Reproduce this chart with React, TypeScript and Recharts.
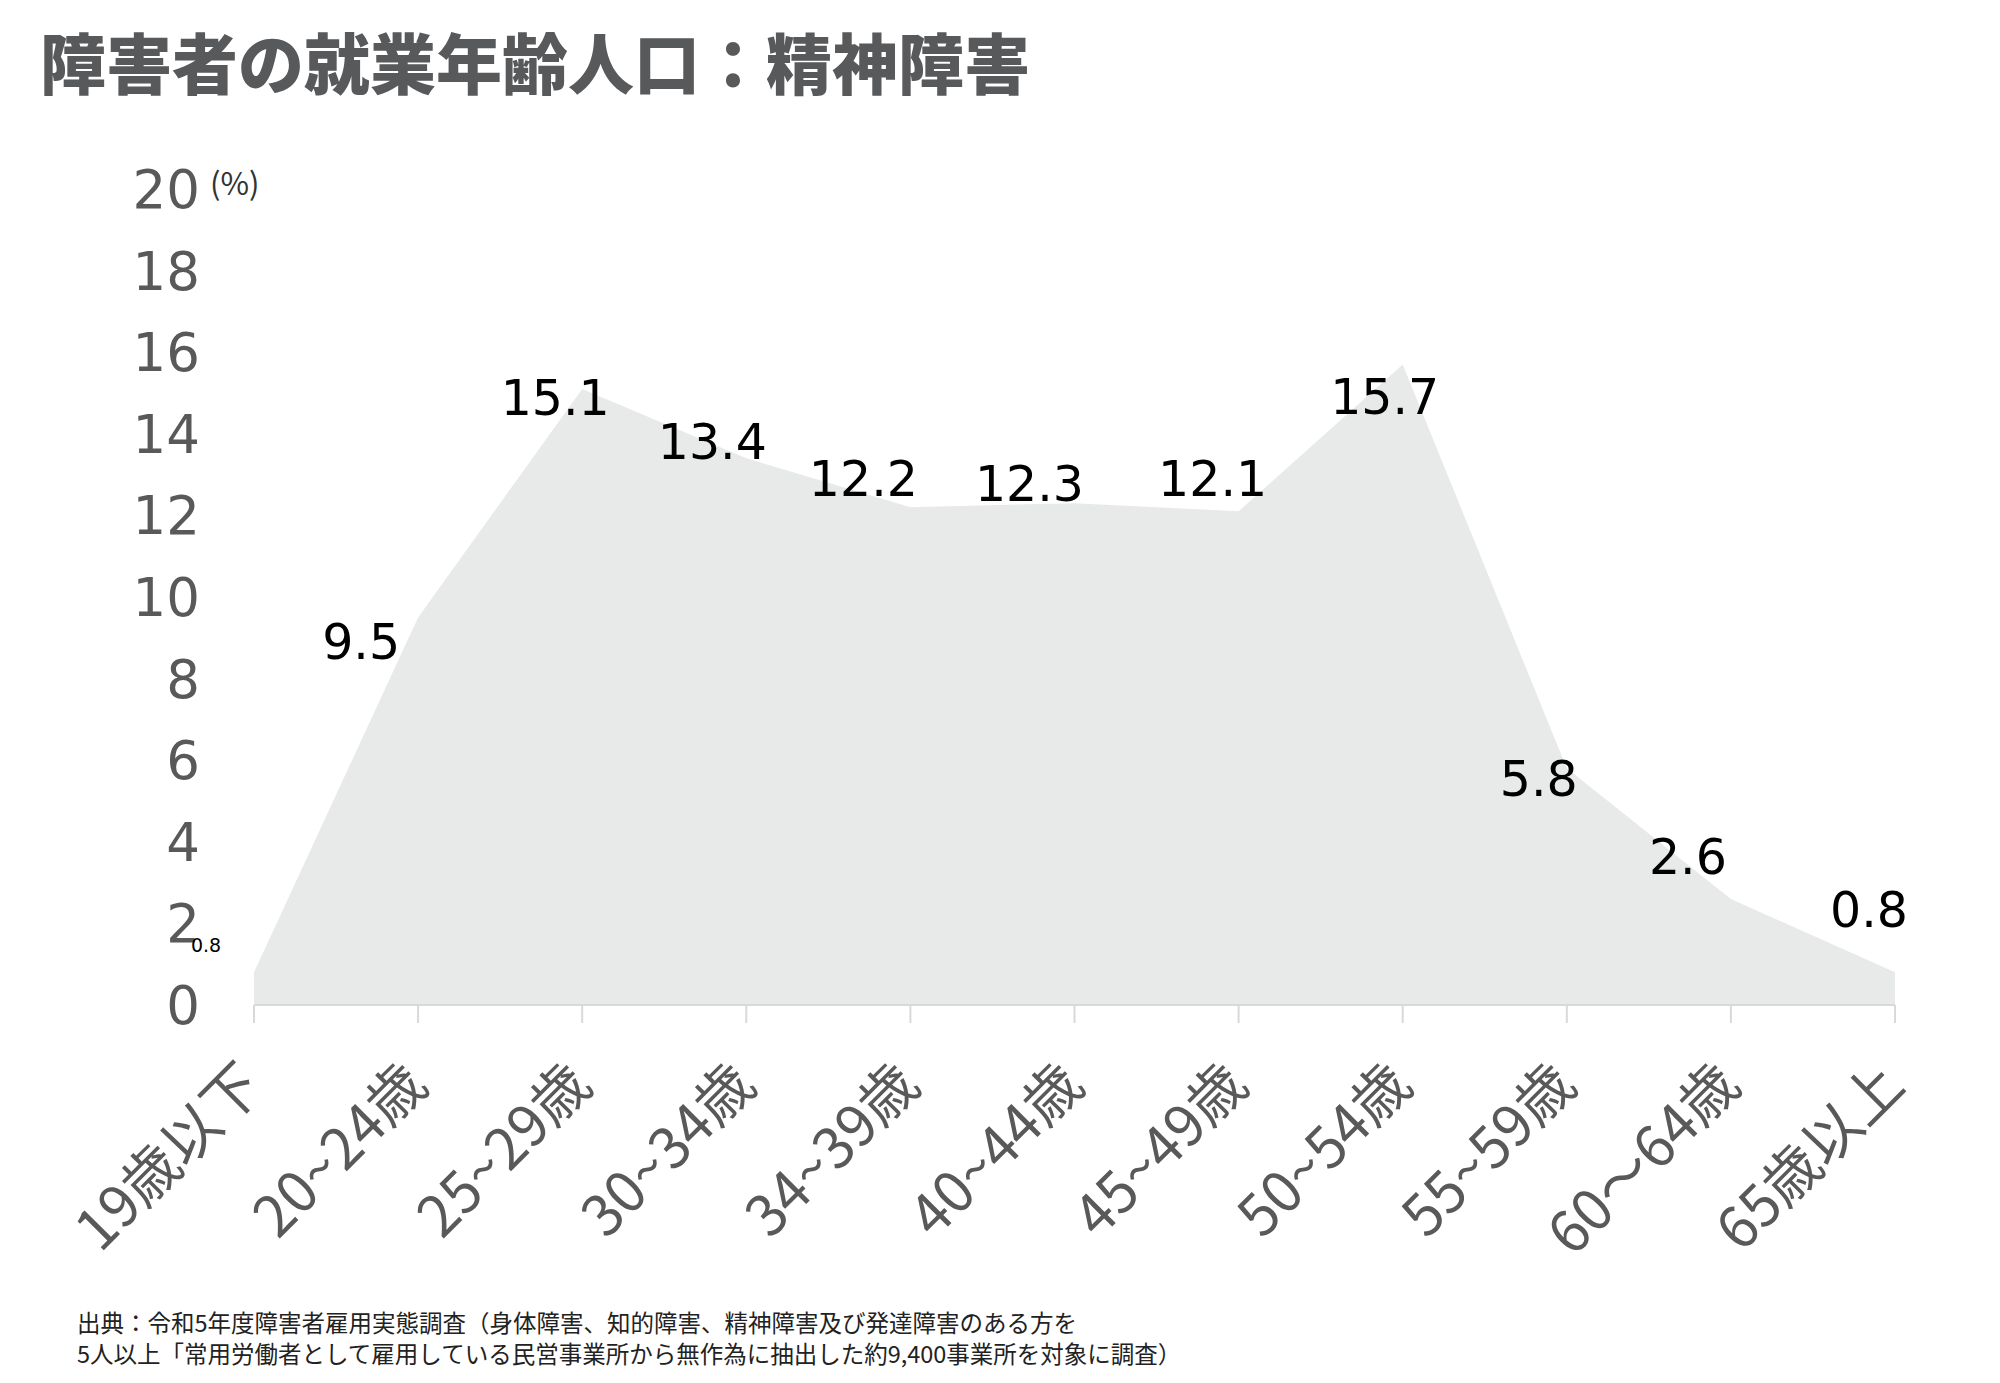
import React from "react";
import { AreaChart, Area, XAxis, YAxis, LabelList } from "recharts";

const categories = [
  "19歳以下",
  "20~24歳",
  "25~29歳",
  "30~34歳",
  "34~39歳",
  "40~44歳",
  "45~49歳",
  "50~54歳",
  "55~59歳",
  "60～64歳",
  "65歳以上",
];
const values = [0.8, 9.5, 15.1, 13.4, 12.2, 12.3, 12.1, 15.7, 5.8, 2.6, 0.8];
const yTicks = [0, 2, 4, 6, 8, 10, 12, 14, 16, 18, 20];

// label placement offsets (px) relative to each point, mimicking the manually placed labels
const labelDx = [-48, -57, -27, -34, -47, -45, -26, -18, -28, -43, -26];
const labelDy = [-27, 24, 8, -17, -29, -20, -33, 32, 10, -43, -63];

const data = categories.map((c, i) => ({ name: c, value: values[i] }));

const TICK_COLOR = "#595959";

const YTick = (props: any) => {
  const { x, y, payload } = props;
  return (
    <g>
      <text
        x={x}
        y={y}
        dy="0.36em"
        textAnchor="end"
        fill={TICK_COLOR}
        fontSize={53}
        fontFamily="'DejaVu Sans', Verdana, sans-serif"
      >
        {payload.value}
      </text>
      {payload.value === 20 ? (
        <text
          x={x + 10}
          y={y}
          dy="0.2em"
          textAnchor="start"
          fill="#333"
          fontSize={31}
          fontFamily="'Noto Sans CJK JP', sans-serif"
        >
          (%)
        </text>
      ) : null}
    </g>
  );
};

const XTick = (props: any) => {
  const { x, y, payload } = props;
  const ax = x + 12;
  const ay = y + 63;
  return (
    <text
      x={ax}
      y={ay}
      textAnchor="end"
      fill={TICK_COLOR}
      fontSize={57}
      fontFamily="'Noto Sans CJK JP', sans-serif"
      transform={`rotate(-45, ${ax}, ${ay})`}
    >
      {payload.value}
    </text>
  );
};

const ValueLabel = (props: any) => {
  const { x, y, value, index } = props;
  const small = index === 0;
  return (
    <text
      x={x + labelDx[index]}
      y={y + labelDy[index]}
      dy="0.36em"
      textAnchor="middle"
      fill="#000"
      fontSize={small ? 19 : 49}
      fontFamily="'DejaVu Sans', Verdana, sans-serif"
    >
      {value}
    </text>
  );
};

export default function App() {
  return (
    <div
      style={{
        position: "absolute",
        left: 0,
        top: 0,
        width: 2000,
        height: 1383,
        background: "#fff",
        overflow: "hidden",
      }}
    >
      <div
        style={{
          position: "absolute",
          left: 40,
          top: 24,
          fontSize: 66,
          lineHeight: "72px",
          fontWeight: 900,
          color: "#58595b",
          fontFamily: "'Noto Sans CJK JP', sans-serif",
          whiteSpace: "nowrap",
        }}
      >
        障害者の就業年齢人口：精神障害
      </div>
      <div style={{ position: "absolute", left: 0, top: 0 }}>
        <AreaChart
          width={2000}
          height={1383}
          data={data}
          margin={{ top: 189, right: 105, left: 200, bottom: 178 }}
        >
          <XAxis
            dataKey="name"
            height={200}
            interval={0}
            axisLine={{ stroke: "#d9d9d9", strokeWidth: 2 }}
            tickLine={{ stroke: "#d9d9d9", strokeWidth: 2 }}
            tickSize={18}
            tickMargin={2}
            tick={<XTick />}
          />
          <YAxis
            width={54}
            domain={[0, 20]}
            ticks={yTicks}
            interval={0}
            axisLine={false}
            tickLine={false}
            tickSize={0}
            tickMargin={54}
            tick={<YTick />}
          />
          <Area
            type="linear"
            dataKey="value"
            stroke="none"
            fill="#e8e9e9"
            fillOpacity={1}
            isAnimationActive={false}
          >
            <LabelList dataKey="value" content={<ValueLabel />} />
          </Area>
        </AreaChart>
      </div>
      <div
        style={{
          position: "absolute",
          left: 77,
          top: 1307,
          fontSize: 23.5,
          lineHeight: "31px",
          color: "#222",
          fontFamily: "'Noto Sans CJK JP', sans-serif",
          whiteSpace: "nowrap",
        }}
      >
        <div>出典：令和5年度障害者雇用実態調査（身体障害、知的障害、精神障害及び発達障害のある方を</div>
        <div>5人以上「常用労働者として雇用している民営事業所から無作為に抽出した約9,400事業所を対象に調査）</div>
      </div>
    </div>
  );
}
